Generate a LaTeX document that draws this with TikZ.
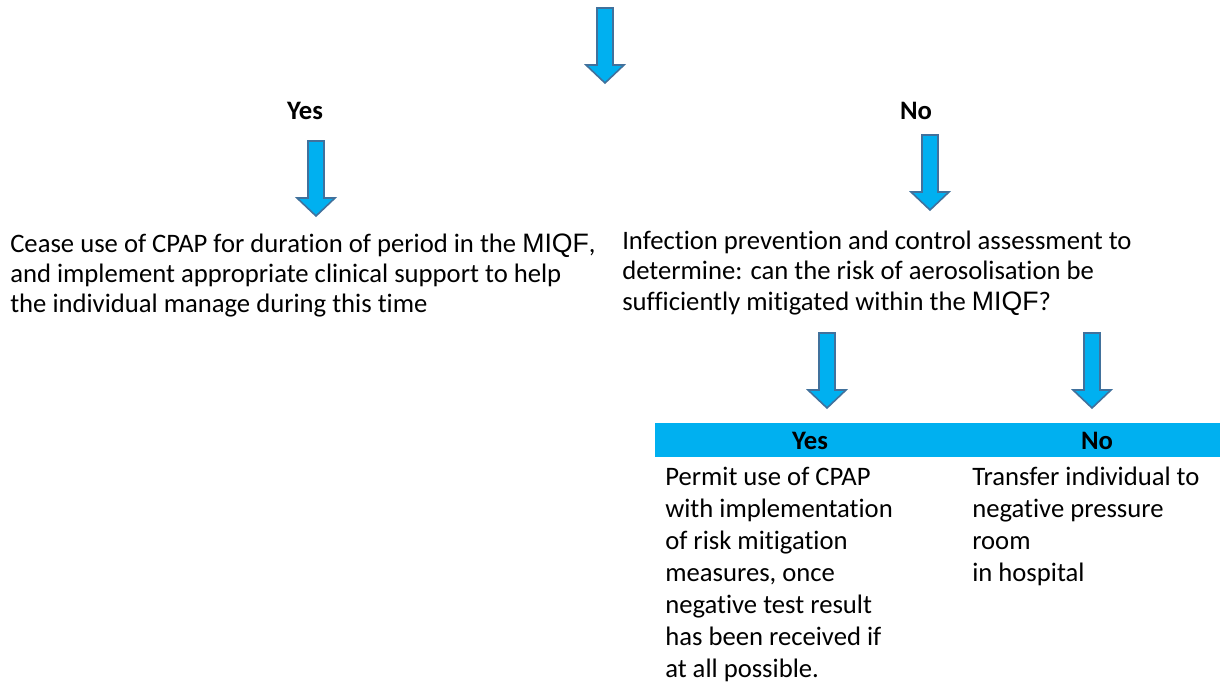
\documentclass[tikz,border=0pt]{standalone}
\usepackage{fontspec}
\setmainfont{Carlito}[Ligatures=NoCommon]
\newfontfamily\miqffont{Liberation Sans}
\usepackage{xcolor}
\usetikzlibrary{positioning,calc}
\definecolor{flowblue}{HTML}{00B0F0}
\definecolor{flowedge}{HTML}{41719C}
\newcommand{\miqf}{{\miqffont MIQF}}

\begin{document}
\begin{tikzpicture}[x=0.75pt,y=-0.75pt,
	every node/.style={font=\fontsize{20}{22.5}\selectfont},
	answer/.style={font=\fontsize{20}{22.5}\selectfont\bfseries},
	step text/.style={anchor=base west,inner sep=0pt,align=left},
	column text/.style={anchor=base west,inner sep=0pt,align=left,
		font=\fontsize{20}{24}\selectfont},
	flowarrow/.pic={\draw[fill=flowblue,draw=flowedge,line width=1.2pt,line join=miter]
		(-8,0) -- (8,0) -- (8,57) -- (19,57) -- (0,75) -- (-19,57) -- (-8,57) -- cycle;}]

    \useasboundingbox (0,0) rectangle (1220,684);

    % arrows
    \pic (top) at (605,8) {flowarrow};
    \pic (yesdown) at (316,141) {flowarrow};
    \pic (nodown) at (930,135) {flowarrow};
    \pic (mitdown) at (827,333) {flowarrow};
    \pic (xferdown) at (1092,333) {flowarrow};

    \node[answer] (yes) at (305,111) {Yes};
    \node[answer] (no) at (916,111) {No};

    % base anchor sits on the last line
    \node[step text] (cease) at (10,312) {Cease use of CPAP for duration of period in the \miqf,\\
	and implement appropriate clinical support to help\\
	the individual manage during this time};
    \node[step text] (ipc) at (622,310) {Infection prevention and control assessment to\\
	determine: can the risk of aerosolisation be\\
	sufficiently mitigated within the \miqf?};

    % result table
    \fill[flowblue] (655,423) rectangle (1220,457);
    \node[answer] (tyes) at (810,441) {Yes};
    \node[answer] (tno) at (1097,441) {No};
    \node[column text] (permit) at (665,677) {Permit use of CPAP\\
	with implementation\\
	of risk mitigation\\
	measures, once\\
	negative test result\\
	has been received if\\
	at all possible.};
    \node[column text] (transfer) at (972,581) {Transfer individual to\\
	negative pressure\\
	room\\
	in hospital};

\end{tikzpicture}
\end{document}
